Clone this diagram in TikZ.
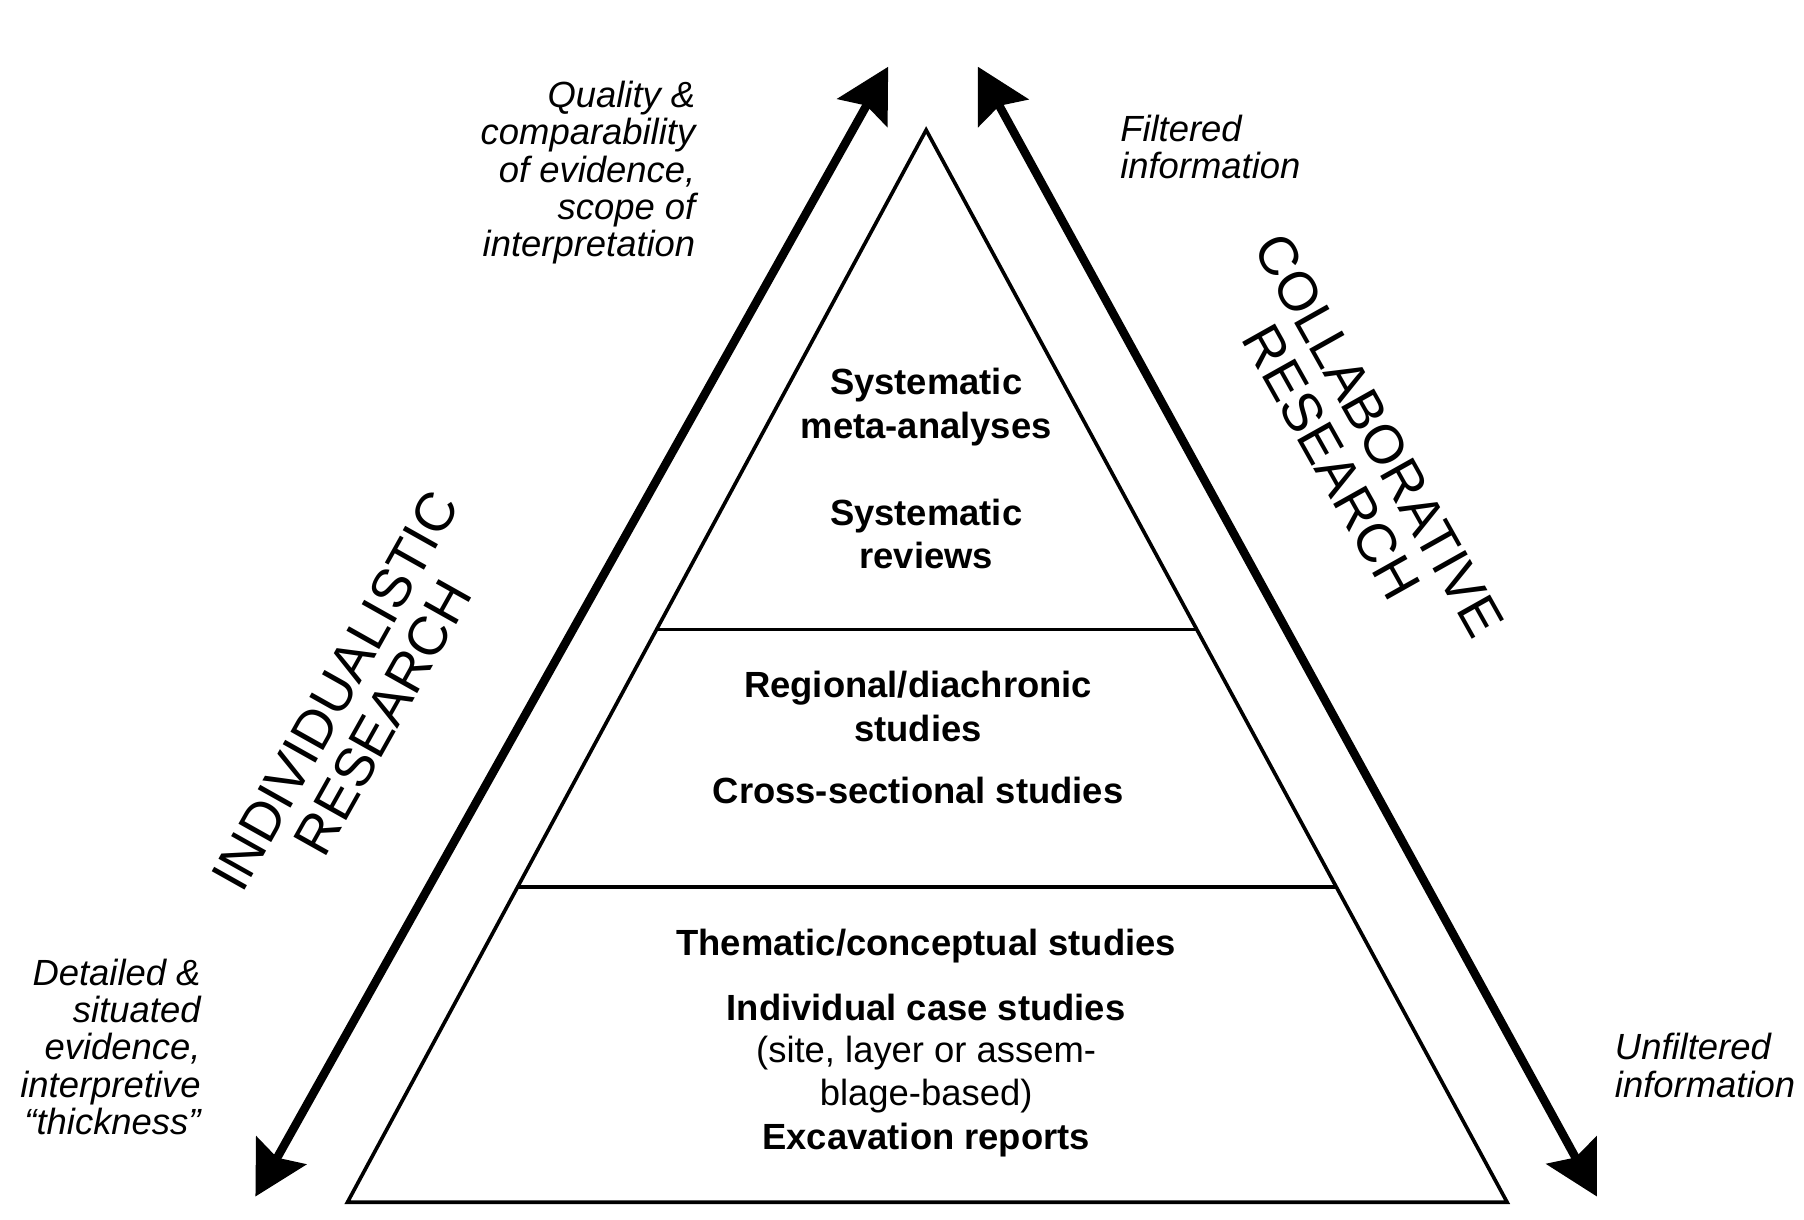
\documentclass[tikz,border=0pt]{standalone}
\usepackage{fontspec}
\setmainfont{Liberation Sans}
\usetikzlibrary{arrows.meta}
\begin{document}
\begin{tikzpicture}[x=0.01cm,y=-0.01cm,
  body/.style={align=center,font=\fontsize{9}{10.8}\selectfont\bfseries},
  note/.style={font=\fontsize{9}{9.2}\selectfont\itshape,inner sep=0pt},
  big/.style={align=center,font=\fontsize{13.5}{13.5}\selectfont,inner sep=0pt},
  bigarrow/.style={line width=2.1pt,{Stealth[length=13pt,width=14pt,inset=2pt]}-{Stealth[length=13pt,width=14pt,inset=2pt]}}]
\useasboundingbox (0,0) rectangle (1568,1060);
\coordinate (apex) at (805,113);
\coordinate (bl) at (302,1045);
\coordinate (br) at (1310,1045);
\draw[line width=0.9pt] (apex) -- (br) -- (bl) -- cycle;
\coordinate (l1) at (571,547); \coordinate (r1) at (1040,547);
\coordinate (l2) at (450,771); \coordinate (r2) at (1161,771);
\draw[line width=0.9pt] (l1) -- (r1);
\draw[line width=0.9pt] (l2) -- (r2);
\coordinate (a1) at (222,1040); \coordinate (a2) at (772,58);
\coordinate (b1) at (850,58); \coordinate (b2) at (1388,1040);
\draw[bigarrow] (a1) -- (a2);
\draw[bigarrow] (b1) -- (b2);
\node[body] (t1) at (805,354) {Systematic\\meta-analyses};
\node[body] (t2) at (805,464) {Systematic\\reviews};
\node[body] (t3) at (798,614) {Regional/diachronic\\studies};
\node[body] (t4) at (798,687) {Cross-sectional studies};
\node[body] (t5) at (805,822) {Thematic/conceptual studies};
\node[body] (t6) at (805,876) {Individual case studies};
\node[body,font=\fontsize{9}{10.8}\selectfont] (t7) at (805,934) {(site, layer or assem-\\blage-based)};
\node[body] (t8) at (805,991) {Excavation reports};
\node[note,align=right,anchor=east] (n1) at (605,150) {Quality \&\\comparability\\of evidence,\\scope of\\interpretation};
\node[note,align=left,anchor=west] (n2) at (973,128) {Filtered\\information};
\node[note,align=right,anchor=east] (n3) at (175,910) {Detailed \&\\situated\\evidence,\\interpretive\\“thickness”};
\node[note,align=left,anchor=west] (n4) at (1403,926) {Unfiltered\\information};
\node[big,rotate=60.7] (g1) at (312,612) {INDIVIDUALISTIC\\RESEARCH};
\node[big,rotate=-60.7] (g2) at (1178,390) {COLLABORATIVE\\RESEARCH};
\end{tikzpicture}
\end{document}
